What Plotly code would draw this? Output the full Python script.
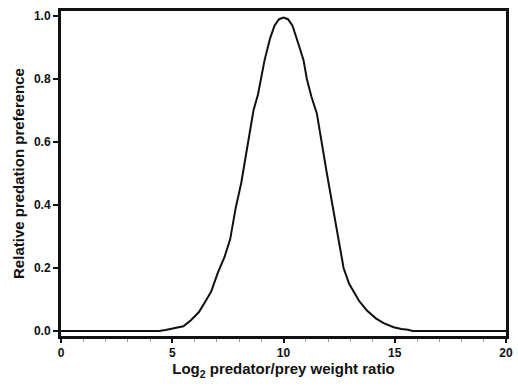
import plotly.graph_objects as go

# Log2 predator/prey weight ratio
ratio = [0, 4.4, 4.7, 5.0, 5.5, 5.85, 6.2, 6.5, 6.75, 7.05, 7.35, 7.6, 7.85, 8.1, 8.4,
         8.65, 8.85, 9.0, 9.15, 9.4, 9.6, 9.8, 10.0, 10.2, 10.4, 10.7, 10.9, 11.05,
         11.25, 11.5, 11.7, 11.95, 12.2, 12.45, 12.7, 12.95, 13.2, 13.4, 13.75, 14.15,
         14.5, 14.95, 15.3, 15.6, 15.8, 20]
# Relative predation preference
preference = [0, 0, 0.003, 0.007, 0.015, 0.035, 0.06, 0.095, 0.125, 0.185, 0.235, 0.29,
              0.39, 0.47, 0.6, 0.70, 0.75, 0.80, 0.86, 0.93, 0.97, 0.99, 0.995, 0.99,
              0.97, 0.905, 0.86, 0.80, 0.745, 0.69, 0.6, 0.5, 0.40, 0.30, 0.20, 0.15,
              0.12, 0.095, 0.065, 0.04, 0.025, 0.012, 0.006, 0.004, 0, 0]

x_ticks = [0, 5, 10, 15, 20]
y_ticks = [0.0, 0.2, 0.4, 0.6, 0.8, 1.0]

FONT = "Liberation Sans, Arial, Helvetica, sans-serif"

fig = go.Figure()
fig.add_trace(go.Scatter(x=ratio, y=preference, mode="lines",
                         line=dict(color="#111111", width=2), showlegend=False))

fig.update_layout(
    width=518, height=387,
    margin=dict(l=61, r=5, t=11, b=51),
    paper_bgcolor="white", plot_bgcolor="white",
    font=dict(family=FONT, color="#111111"),
)
fig.update_xaxes(
    range=[0, 20], tickvals=x_ticks, ticktext=[str(v) for v in x_ticks],
    showgrid=False, zeroline=False,
    showline=True, linecolor="#111111", linewidth=3, mirror=True,
    ticks="outside", ticklen=4, tickwidth=2, tickcolor="#111111",
    minor=dict(dtick=1, ticks="outside", ticklen=3, tickwidth=1, tickcolor="#999999"),
    tickfont=dict(size=12, family=FONT, weight="bold", color="#111111"),
    title=dict(text="Log<sub>2</sub> predator/prey weight ratio",
               font=dict(size=15, family=FONT, weight="bold", color="#111111"), standoff=5),
)
fig.update_yaxes(
    range=[-0.016, 1.016], tickvals=y_ticks, ticktext=[f"{v:.1f}" for v in y_ticks],
    showgrid=False, zeroline=False,
    showline=True, linecolor="#111111", linewidth=3, mirror=True,
    ticks="outside", ticklen=5, tickwidth=2, tickcolor="#111111",
    tickfont=dict(size=12, family=FONT, weight="bold", color="#111111"),
    title=dict(text="Relative predation preference",
               font=dict(size=15, family=FONT, weight="bold", color="#111111"), standoff=6),
)

fig.write_html("out.html")
